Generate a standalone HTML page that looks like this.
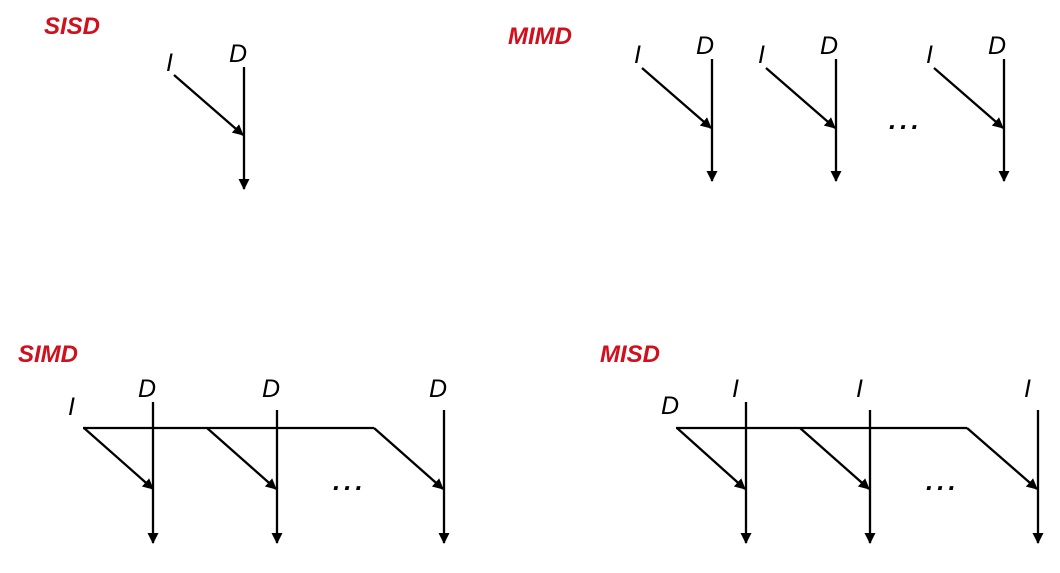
<!DOCTYPE html>
<html><head><meta charset="utf-8"><style>
body{margin:0;background:#fff;width:1060px;height:568px;overflow:hidden}
text{font-family:"Liberation Sans",Arial,sans-serif;font-style:italic;font-size:25px;fill:#000}
.t{font-weight:bold;fill:#d0101c;font-size:24px}
.d{font-size:26px;font-weight:bold;letter-spacing:4px}
line{stroke:#000;stroke-width:2.3}
</style></head><body>
<svg width="1060" height="568" viewBox="0 0 1060 568">
<defs><marker id="a" markerWidth="11" markerHeight="11" refX="10" refY="5.5" orient="auto" markerUnits="userSpaceOnUse"><path d="M0,0 L11,5.5 L0,11 z" fill="#000"/></marker></defs>
<text class="t" x="44" y="34">SISD</text>
<text x="166" y="71">I</text><text x="229" y="62">D</text>
<line x1="244" y1="67" x2="244" y2="189" marker-end="url(#a)"/>
<line x1="174" y1="75" x2="243" y2="135" marker-end="url(#a)"/>

<text class="t" x="508" y="44">MIMD</text>
<text x="634" y="63">I</text><text x="696" y="54">D</text>
<line x1="712" y1="59" x2="712" y2="181" marker-end="url(#a)"/>
<line x1="642" y1="68" x2="711" y2="128" marker-end="url(#a)"/>
<text x="758" y="63">I</text><text x="820" y="54">D</text>
<line x1="836" y1="59" x2="836" y2="181" marker-end="url(#a)"/>
<line x1="766" y1="68" x2="835" y2="128" marker-end="url(#a)"/>
<text x="926" y="63">I</text><text x="988" y="54">D</text>
<line x1="1004" y1="59" x2="1004" y2="181" marker-end="url(#a)"/>
<line x1="934" y1="68" x2="1003" y2="128" marker-end="url(#a)"/>
<text class="d" x="889" y="129">...</text>

<text class="t" x="18" y="362">SIMD</text>
<text x="68" y="415">I</text>
<text x="138" y="397">D</text><text x="262" y="397">D</text><text x="429" y="397">D</text>
<line x1="153" y1="402" x2="153" y2="543" marker-end="url(#a)"/>
<line x1="277" y1="410" x2="277" y2="543" marker-end="url(#a)"/>
<line x1="444" y1="410" x2="444" y2="543" marker-end="url(#a)"/>
<line x1="83" y1="428" x2="374" y2="428"/>
<line x1="84" y1="428" x2="153" y2="489" marker-end="url(#a)"/>
<line x1="207" y1="428" x2="276" y2="489" marker-end="url(#a)"/>
<line x1="374" y1="428" x2="443" y2="489" marker-end="url(#a)"/>
<text class="d" x="333" y="490">...</text>

<text class="t" x="600" y="362">MISD</text>
<text x="661" y="414">D</text>
<text x="732" y="397">I</text><text x="856" y="397">I</text><text x="1024" y="397">I</text>
<line x1="746" y1="402" x2="746" y2="543" marker-end="url(#a)"/>
<line x1="870" y1="410" x2="870" y2="543" marker-end="url(#a)"/>
<line x1="1038" y1="410" x2="1038" y2="543" marker-end="url(#a)"/>
<line x1="676" y1="428" x2="967" y2="428"/>
<line x1="677" y1="428" x2="745" y2="489" marker-end="url(#a)"/>
<line x1="800" y1="428" x2="869" y2="489" marker-end="url(#a)"/>
<line x1="967" y1="428" x2="1037" y2="489" marker-end="url(#a)"/>
<text class="d" x="926" y="490">...</text>
</svg>
</body></html>
